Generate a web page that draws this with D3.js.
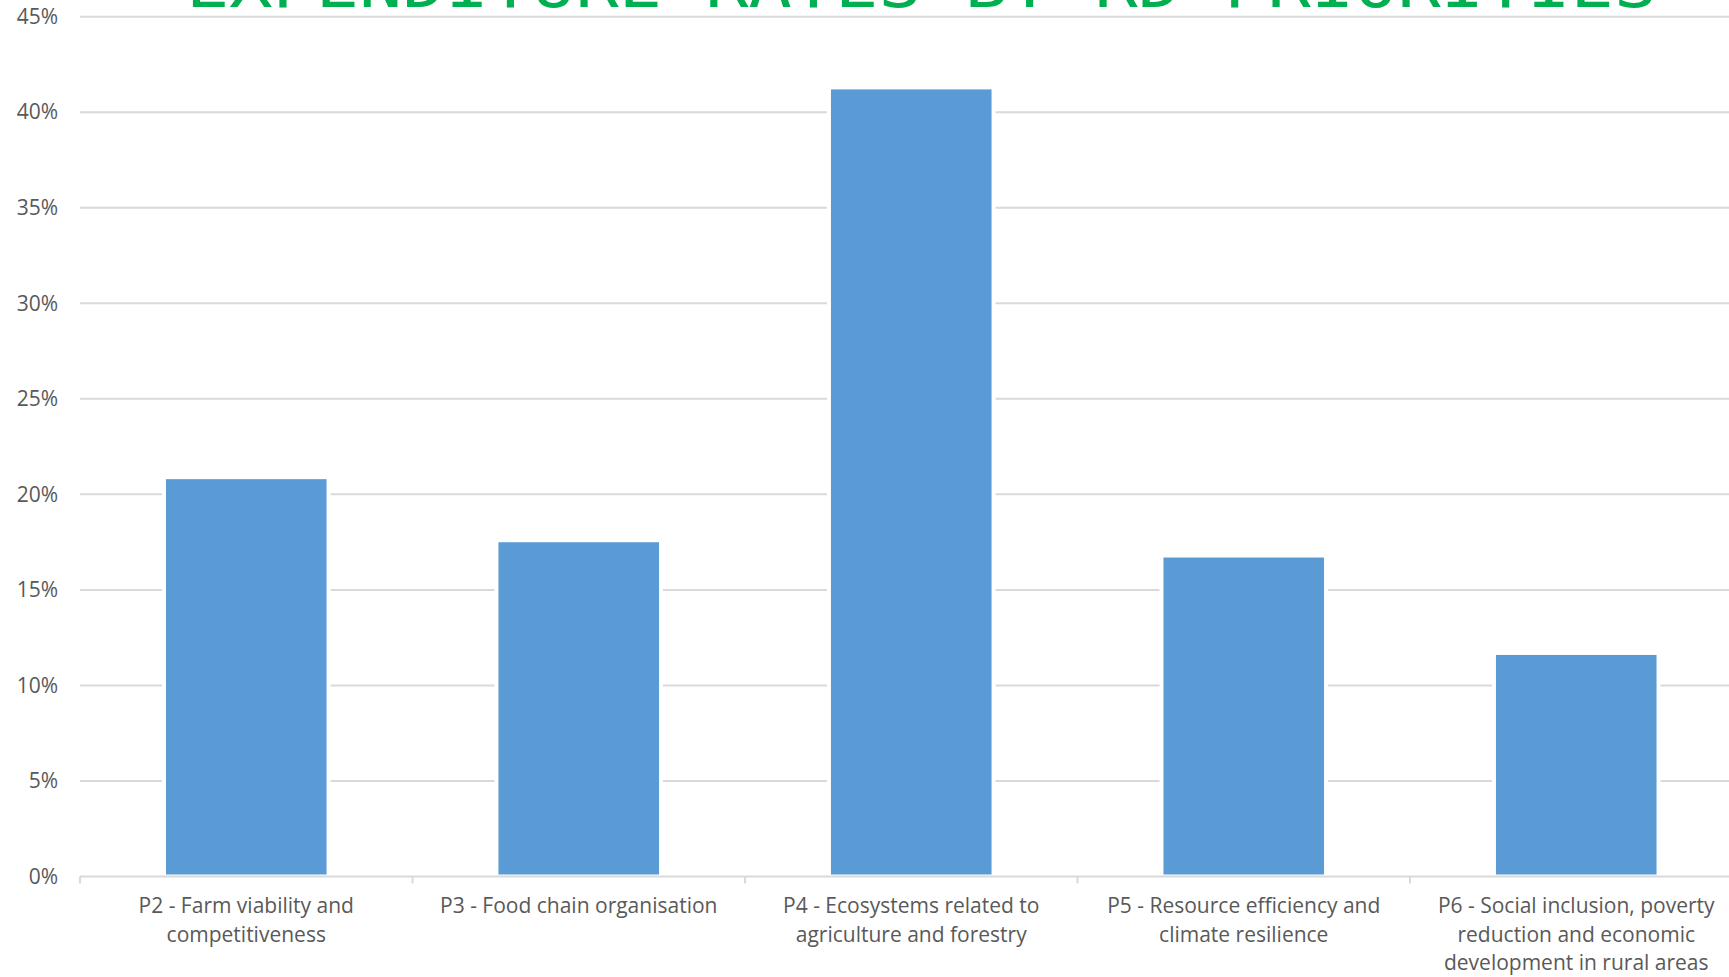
<!DOCTYPE html>
<html>
<head>
<meta charset="utf-8">
<script src="https://cdn.jsdelivr.net/npm/d3@7"></script>
<style>
  html, body { margin: 0; padding: 0; background: #ffffff; overflow: hidden; }
  svg { display: block; }
</style>
</head>
<body>
<svg id="chart" width="1729" height="977"></svg>
<script>
// Expenditure share by rural development priority
const categories = ["P2", "P3", "P4", "P5", "P6"];
const categoryLabels = [
  ["P2 - Farm viability and", "competitiveness"],
  ["P3 - Food chain organisation"],
  ["P4 - Ecosystems related to", "agriculture and forestry"],
  ["P5 - Resource efficiency and", "climate resilience"],
  ["P6 - Social inclusion, poverty", "reduction and economic", "development in rural areas"]
];
const expenditureRates = [0.209, 0.176, 0.413, 0.168, 0.117];
const yTicks = [0, 0.05, 0.10, 0.15, 0.20, 0.25, 0.30, 0.35, 0.40, 0.45];
const titleText = "EXPENDITURE RATES BY RD PRIORITIES";

const svg = d3.select("#chart");
const W = 1729, H = 977;
const plot = { left: 80, right: 1742.5, top: 16.7, bottom: 876.5 };

const x = d3.scaleBand()
  .domain(categories)
  .range([plot.left, plot.right])
  .paddingInner(0.505)
  .paddingOuter(0.2525);

const y = d3.scaleLinear()
  .domain([0, 0.45])
  .range([plot.bottom, plot.top]);

const textColor = "#595959";
const gridColor = "#D9D9D9";
const font = "'Open Sans', 'Noto Sans', sans-serif";

// Horizontal gridlines
svg.append("g")
  .selectAll("line")
  .data(yTicks.filter(d => d > 0))
  .join("line")
  .attr("x1", plot.left)
  .attr("x2", W)
  .attr("y1", d => y(d))
  .attr("y2", d => y(d))
  .attr("stroke", gridColor)
  .attr("stroke-width", 2);

// Y axis labels
const yAxis = d3.axisLeft(y)
  .tickValues(yTicks)
  .tickFormat(d3.format(".0%"))
  .tickSize(0)
  .tickPadding(22);

svg.append("g")
  .attr("transform", `translate(${plot.left},0)`)
  .call(yAxis)
  .call(g => g.select(".domain").remove())
  .call(g => g.selectAll("text")
    .attr("fill", textColor)
    .style("font-family", font)
    .style("font-size", "21px"));

// Bars
svg.append("g")
  .selectAll("rect")
  .data(categories)
  .join("rect")
  .attr("x", d => x(d))
  .attr("width", x.bandwidth())
  .attr("y", (d, i) => y(expenditureRates[i]))
  .attr("height", (d, i) => y(0) - y(expenditureRates[i]))
  .attr("fill", "#5B9BD5")
  .attr("stroke", "#ffffff")
  .attr("stroke-width", 4);

// Category axis with tick marks between bands
const boundaries = categories.map(c => x(c) - x.step() * x.paddingInner() / 2);
svg.append("line")
  .attr("x1", plot.left)
  .attr("x2", W)
  .attr("y1", y(0))
  .attr("y2", y(0))
  .attr("stroke", gridColor)
  .attr("stroke-width", 2);

svg.append("g")
  .selectAll("line")
  .data(boundaries)
  .join("line")
  .attr("x1", d => d)
  .attr("x2", d => d)
  .attr("y1", y(0))
  .attr("y2", y(0) + 7)
  .attr("stroke", gridColor)
  .attr("stroke-width", 2);

// Category labels
const labelGroup = svg.append("g")
  .attr("fill", textColor)
  .style("font-family", font)
  .style("font-size", "21px")
  .attr("text-anchor", "middle");

categories.forEach((c, i) => {
  const cx = x(c) + x.bandwidth() / 2;
  const t = labelGroup.append("text")
    .attr("x", cx)
    .attr("y", 913);
  categoryLabels[i].forEach((line, j) => {
    t.append("tspan")
      .attr("x", cx)
      .attr("dy", j === 0 ? 0 : 28.5)
      .text(line);
  });
});

// Title, partly above the top edge
svg.append("text")
  .attr("x", 186)
  .attr("y", 7)
  .attr("textLength", 1471)
  .attr("lengthAdjust", "spacingAndGlyphs")
  .attr("fill", "#00B050")
  .style("font-family", "'DejaVu Sans Mono', 'Liberation Mono', monospace")
  .style("font-size", "62px")
  .text(titleText);
</script>
</body>
</html>
